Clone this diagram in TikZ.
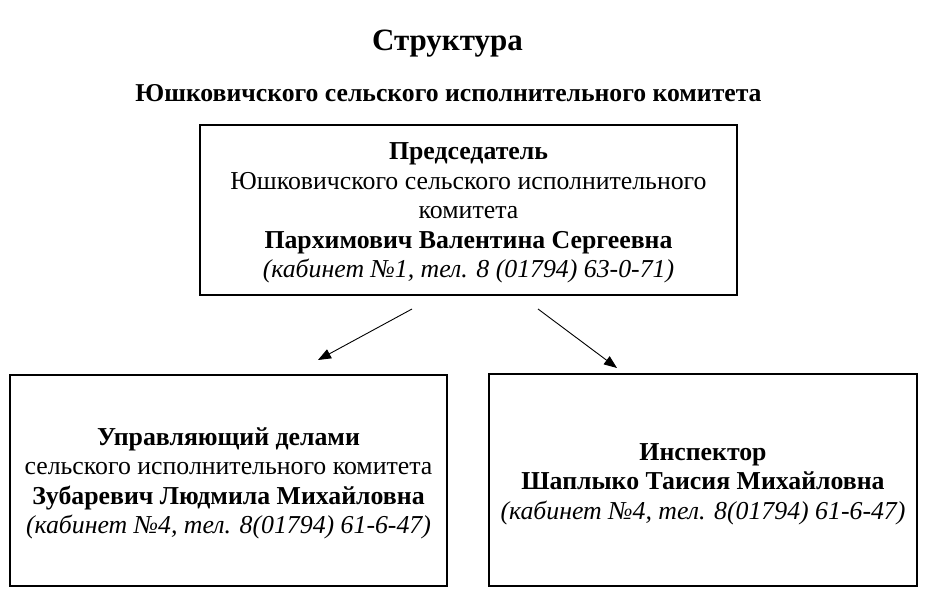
\documentclass[tikz,border=0pt]{standalone}
\usepackage{fontspec}
\setmainfont{Liberation Serif}
\usetikzlibrary{arrows.meta}

\begin{document}
\begin{tikzpicture}[x=1pt,y=-1pt,
  box/.style={draw,line width=2.2pt,inner sep=0pt},
  txt/.style={align=center,inner sep=0pt,font=\fontsize{25.8}{29.5}\selectfont},
  arr/.style={line width=0.9pt,-{Triangle[length=13pt,width=10pt]}}]
\useasboundingbox (0,0) rectangle (925,607);
% heading
\node[font=\fontsize{31}{36}\selectfont\bfseries] (title) at (447.5,44) {Структура};
\node[font=\fontsize{25.7}{30}\selectfont\bfseries] (sub) at (448.5,93) {Юшковичского сельского исполнительного комитета};
% boxes
\node[box,minimum width=537pt,minimum height=170pt] (pred) at (468.5,210) {};
\node[box,minimum width=437pt,minimum height=211pt] (upr) at (228.5,480.5) {};
\node[box,minimum width=428pt,minimum height=212pt] (insp) at (703,480) {};
% texts
\node[txt] (predtext) at ([yshift=-3pt]pred.center)
  {\textbf{Председатель}\\Юшковичского сельского исполнительного\\комитета\\
   \textbf{Пархимович Валентина Сергеевна}\\\textit{(кабинет №1, тел. 8 (01794) 63-0-71)}};
\node[txt] (uprtext) at ([yshift=-3pt]upr.center)
  {\textbf{Управляющий делами}\\сельского исполнительного комитета\\
   \textbf{Зубаревич Людмила Михайловна}\\\textit{(кабинет №4, тел. 8(01794) 61-6-47)}};
\node[txt] (insptext) at ([yshift=-4pt]insp.center)
  {\textbf{Инспектор}\\\textbf{Шаплыко Таисия Михайловна}\\\textit{(кабинет №4, тел. 8(01794) 61-6-47)}};
% arrows
\coordinate (a1) at (412,309); \coordinate (a2) at (318,360);
\coordinate (b1) at (538,309); \coordinate (b2) at (617,368);
\draw[arr] (a1) -- (a2);
\draw[arr] (b1) -- (b2);
\end{tikzpicture}
\end{document}
